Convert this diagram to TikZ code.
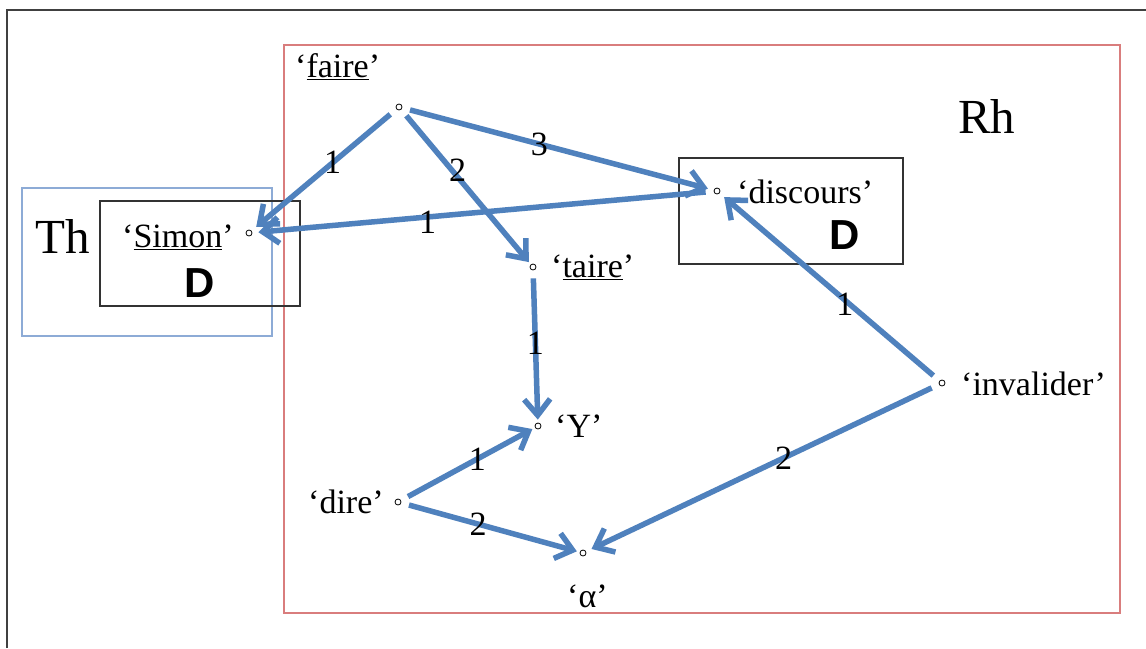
\documentclass[tikz,border=0pt]{standalone}
\usepackage{fontspec}
\setmainfont{Liberation Serif}
\newfontfamily\dfont{Liberation Sans}
\usetikzlibrary{arrows.meta}
\definecolor{arrblue}{RGB}{79,129,189}
\definecolor{boxred}{RGB}{217,125,125}
\definecolor{boxblue}{RGB}{141,171,214}
\begin{document}
\begin{tikzpicture}[x=1pt,y=-1pt,
 txt/.style={inner sep=0pt, anchor=base west, font=\fontsize{34}{36}\selectfont},
 big/.style={inner sep=0pt, anchor=base west, font=\fontsize{49}{54}\selectfont},
 dd/.style={inner sep=0pt, font=\dfont\bfseries\fontsize{42}{46}\selectfont},
 pt/.style={circle, draw=black, fill=white, line width=0.8pt, inner sep=0pt, minimum size=6pt},
 arr/.style={draw=arrblue, line width=5.5pt, -{Straight Barb[length=16pt,width=26pt]}, shorten <=8pt, shorten >=3pt},
 lab/.style={inner sep=0pt, font=\fontsize{34}{36}\selectfont}
]
\useasboundingbox (0,0) rectangle (1146,648);
\fill[white] (0,0) rectangle (1146,648);
% frames
\draw[line width=1.5pt, black!75] (7,648) -- (7,10) -- (1146,10);
\draw[boxred, line width=2.5pt] (284,45) rectangle (1120,613);
\draw[boxblue, line width=2pt] (22,188) rectangle (272,336);
\draw[black!80, line width=1.8pt] (100,201) rectangle (300,306);
\draw[black!80, line width=1.8pt] (679,158) rectangle (903,264);
% points
\node[pt] (faire) at (399,107) {};
\node[pt] (simon) at (249,233) {};
\node[pt] (disc) at (717,191) {};
\node[pt] (taire) at (533,267) {};
\node[pt] (Y) at (538,426) {};
\node[pt] (dire) at (398,502) {};
\node[pt] (alpha) at (583,553) {};
\node[pt] (inv) at (942,383) {};
% texts
\node[txt] (tfaire) at (295,77) {‘\underline{faire}’};
\node[txt] (tsimon) at (122,247) {‘\underline{Simon}’};
\node[dd] (d1) at (200,283) {D};
\node[big] (th) at (35,253) {Th};
\node[big] (rh) at (958,133) {Rh};
\node[txt] (tdisc) at (737,203) {‘discours’};
\node[dd] (d2) at (845,235) {D};
\node[txt] (tinv) at (961,395) {‘invalider’};
\node[txt] (ttaire) at (551,277) {‘\underline{taire}’};
\node[txt] (tY) at (555,437) {‘Y’};
\node[txt] (tdire) at (308,513) {‘dire’};
\node[txt] (talpha) at (567,607) {‘α’};
% arrows
\draw[arr, shorten >=6pt] (faire) -- node[lab,pos=0.44]{1} (simon);
\draw[arr] (faire) -- node[lab,pos=0.42,xshift=2pt,yshift=4pt]{2} (taire);
\draw[arr, shorten >=6pt] (faire) -- node[lab,pos=0.44]{3} (disc);
\draw[arr, shorten >=6pt] (disc) -- node[lab,pos=0.62,yshift=-5pt]{1} (simon);
\draw[arr] (taire) -- node[lab,pos=0.48]{1} (Y);
\draw[arr] (dire) -- node[lab,pos=0.57]{1} (Y);
\draw[arr] (dire) -- node[lab,pos=0.43]{2} (alpha);
\draw[arr, shorten >=6pt] (inv) -- node[lab,pos=0.43,yshift=-4pt]{1} (disc);
\draw[arr, shorten >=6pt] (inv) -- node[lab,pos=0.44]{2} (alpha);
\end{tikzpicture}
\end{document}
